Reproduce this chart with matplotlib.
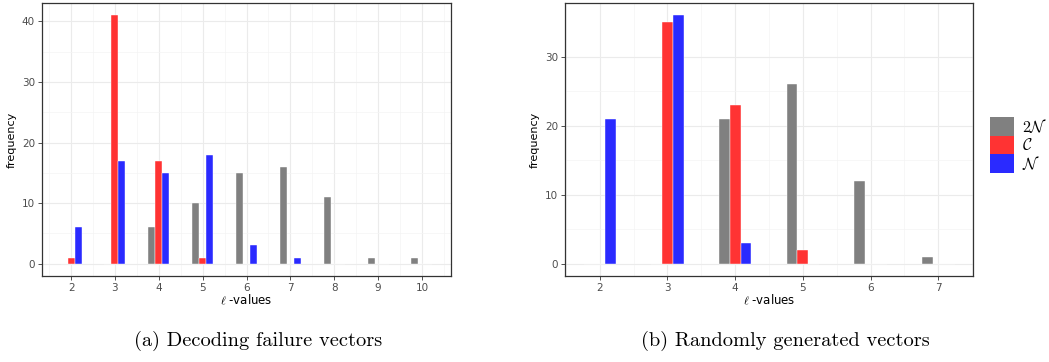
import numpy as np
import matplotlib
matplotlib.use('Agg')
import matplotlib.pyplot as plt
from matplotlib.patches import Patch

plt.rcParams['mathtext.fontset'] = 'cm'

# (a) Decoding failure vectors
l_a = [2, 3, 4, 5, 6, 7, 8, 9, 10]
two_n_a = [0, 0, 6, 10, 15, 16, 11, 1, 1]
c_a = [1, 41, 17, 1, 0, 0, 0, 0, 0]
n_a = [6, 17, 15, 18, 3, 1, 0, 0, 0]

# (b) Randomly generated vectors
l_b = [2, 3, 4, 5, 6, 7]
two_n_b = [0, 0, 21, 26, 12, 1]
c_b = [0, 35, 23, 2, 0, 0]
n_b = [21, 36, 3, 0, 0, 0]

series_names = [r'$2\mathcal{N}$', r'$\mathcal{C}$', r'$\mathcal{N}$']
colors = ['#808080', '#FF3333', '#2A2AFF']
captions = ['(a) Decoding failure vectors', '(b) Randomly generated vectors']

W = 0.16


def draw_panel(ax, xs, groups, yticks):
    xs = np.array(xs, dtype=float)
    for i, (vals, col) in enumerate(zip(groups, colors)):
        ax.bar(xs + (i - 1) * W, vals, width=W, color=col,
               edgecolor='#FFFFFF', linewidth=0.3, zorder=3)
    lo, hi = xs.min() - 1.5 * W, xs.max() + 1.5 * W
    pad = 0.05 * (hi - lo)
    ax.set_xlim(lo - pad, hi + pad)
    ymax = max(max(g) for g in groups)
    ax.set_ylim(-0.05 * ymax, 1.05 * ymax)
    ax.set_xticks(xs)
    ax.set_xticks(np.arange(xs.min() - 0.5, xs.max() + 1.0, 1.0), minor=True)
    ax.set_yticks(yticks)
    ax.set_yticks(np.array(yticks[:-1]) + 5, minor=True)
    ax.grid(True, which='major', color='#EBEBEB', linewidth=0.8, zorder=0)
    ax.grid(True, which='minor', color='#F4F4F4', linewidth=0.5, zorder=0)
    ax.tick_params(which='major', length=3, color='#333333', labelsize=7.5,
                   labelcolor='#4D4D4D', width=0.6, pad=2)
    ax.tick_params(which='minor', length=0)
    for s in ax.spines.values():
        s.set_color('#333333')
        s.set_linewidth(0.9)
    ax.set_ylabel('frequency', fontsize=8, labelpad=4)
    ax.set_xlabel(r'$\ell$ -values', fontsize=8.5, labelpad=0)


fig = plt.figure(figsize=(10.49, 3.62), dpi=100)
ax1 = fig.add_axes([0.040, 0.2376, 0.390, 0.754])
ax2 = fig.add_axes([0.5386, 0.2376, 0.389, 0.754])

draw_panel(ax1, l_a, [two_n_a, c_a, n_a], [0, 10, 20, 30, 40])
draw_panel(ax2, l_b, [two_n_b, c_b, n_b], [0, 10, 20, 30])

handles = [Patch(facecolor=c, edgecolor='none') for c in colors]
fig.legend(handles, series_names, loc='center left',
           bbox_to_anchor=(0.93, 0.6), frameon=False, fontsize=11.5,
           handlelength=1.5, handleheight=1.4, handletextpad=0.5,
           labelspacing=0.0)

fig.text(0.246, 0.058, captions[0], ha='center', va='center',
         fontsize=14.7, family='cmr10')
fig.text(0.749, 0.058, captions[1], ha='center', va='center',
         fontsize=14.7, family='cmr10')

fig.savefig('out.png', dpi=100)
